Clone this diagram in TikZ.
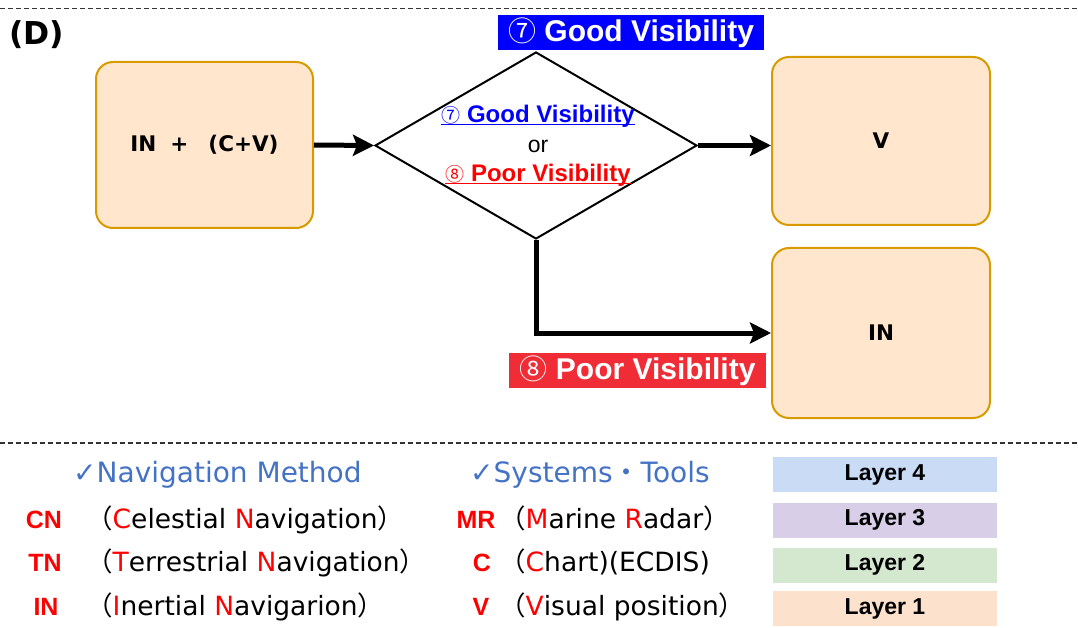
\documentclass[tikz,border=0pt]{standalone}
\usepackage{fontspec}
\setmainfont{Liberation Sans}
\newfontfamily\dvsans{DejaVu Sans}
\newfontfamily\jpfont{Noto Sans CJK JP}
\usetikzlibrary{shapes.geometric,arrows.meta}

\definecolor{boxfill}{HTML}{FFE6CC}
\definecolor{boxline}{HTML}{D79B00}
\definecolor{goodblue}{HTML}{0000FF}
\definecolor{poorred}{HTML}{F02C36}
\definecolor{hdrblue}{HTML}{4472C4}
\definecolor{abbrred}{HTML}{FF0000}
\definecolor{lay4}{HTML}{CADBF6}
\definecolor{lay3}{HTML}{D8CEE8}
\definecolor{lay2}{HTML}{D4E8D0}
\definecolor{lay1}{HTML}{FCE2CC}
\definecolor{sepgray}{HTML}{333333}

% font size in points, leading equal to size
\newcommand\setfs[1]{\fontsize{#1}{#1}\selectfont}
% text with a thin underline close to the baseline
\newcommand\ulinetext[1]{\setbox0\hbox{#1}\rlap{\rule[-2.5pt]{\wd0}{1.5pt}}\box0}
% full-width brackets
\newcommand\fwl{{\jpfont\mdseries （}}
\newcommand\fwr{{\jpfont\mdseries ）}}
\newcommand\hl[1]{{\color{abbrred}#1}}
% circled numbers
\newcommand\circnum[2]{{\jpfont\mdseries\setfs{#1}#2}}

\tikzset{
  stage/.style={draw=boxline, fill=boxfill, line width=2pt, rounded corners=17pt,
    inner sep=0pt, font=\dvsans\bfseries\setfs{21.5}},
  decision/.style={diamond, draw=black, line width=2pt, fill=white, inner sep=0pt},
  flow/.style={line width=5pt, -{Stealth[length=21pt,width=21pt,inset=4pt]}},
  tag/.style={text=white, font=\bfseries\setfs{30}, inner sep=0pt, minimum height=35pt},
  sepline/.style={draw=sepgray, line width=1.5pt, dash pattern=on 5pt off 3pt},
  hdr/.style={anchor=base west, inner sep=0pt, text=hdrblue, font=\dvsans\setfs{28}},
  abbr/.style={anchor=base, inner sep=0pt, text=abbrred, font=\bfseries\setfs{25}},
  desc/.style={anchor=base west, inner sep=0pt, font=\dvsans\setfs{26.5}},
  layer/.style={minimum width=224pt, minimum height=35pt, inner sep=0pt,
    font=\bfseries\setfs{23}},
}

\begin{document}
\begin{tikzpicture}[x=1pt,y=-1pt]
\useasboundingbox (0,0) rectangle (1078,628);

% separators
\draw[sepline] (0,8.5) -- (1078,8.5);
\draw[sepline] (0,443) -- (1078,443);

\node[anchor=base west, inner sep=0pt, font=\dvsans\bfseries\setfs{31.5}] (title) at (9,45) {(D)};

% flow
\node[stage, minimum width=217pt, minimum height=166pt] (mix) at (204.5,145)
  {IN\hspace{14pt}+\hspace{20pt}(C+V)};
\node[decision, minimum width=322pt, minimum height=187pt] (dia) at (536,145.5) {};
\node[stage, minimum width=218pt, minimum height=168pt] (vis) at (881,141) {V};
\node[stage, minimum width=218pt, minimum height=170pt] (ins) at (881,333) {IN};

\node[anchor=base, inner sep=0pt, text=goodblue, font=\bfseries\setfs{24}] (q1) at (538,123)
  {\ulinetext{\circnum{19}{⑦} Good Visibility}};
\node[anchor=base, inner sep=0pt, font=\setfs{23}] (q2) at (538,153) {or};
\node[anchor=base, inner sep=0pt, text=abbrred, font=\bfseries\setfs{24}] (q3) at (538,182)
  {\ulinetext{\circnum{19}{⑧} Poor Visibility}};

\draw[flow] (mix.east) -- (dia.west);
\draw[flow] (dia.east) -- (dia.east -| vis.west);
\draw[flow] (dia.south) |- (ins.west);

\node[tag, fill=goodblue, minimum width=266pt] (good) at (631,32.5)
  {\circnum{28}{⑦} Good Visibility};
\node[tag, fill=poorred, minimum width=257pt] (poor) at (637.5,370.5)
  {\circnum{28}{⑧} Poor Visibility};

% legend: navigation methods
\node[hdr] (h1) at (73,482) {✓Navigation Method};
\node[abbr] (cn) at (44,528) {CN};
\node[abbr] (tn) at (45,571) {TN};
\node[abbr] (in) at (46,615) {IN};
\node[desc] (cnd) at (86,528) {\fwl\hl{C}elestial \hl{N}avigation\fwr};
\node[desc] (tnd) at (86,571) {\fwl\hl{T}errestrial \hl{N}avigation\fwr};
\node[desc] (ind) at (86,615) {\fwl\hl{I}nertial \hl{N}avigarion\fwr};

% legend: systems and tools
\node[hdr] (h2) at (470,482) {✓Systems{\jpfont ・}Tools};
\node[abbr] (mr) at (476,528) {MR};
\node[abbr] (ch) at (482,571) {C};
\node[abbr] (vp) at (481,615) {V};
\node[desc] (mrd) at (499,528) {\fwl\hl{M}arine \hl{R}adar\fwr};
\node[desc] (chd) at (499,571) {\fwl\hl{C}hart)(ECDIS)};
\node[desc] (vpd) at (499,615) {\fwl\hl{V}isual position\fwr};

% legend: layers
\node[layer, fill=lay4] (l4) at (885,474.5) {Layer 4};
\node[layer, fill=lay3] (l3) at (885,520) {Layer 3};
\node[layer, fill=lay2] (l2) at (885,565) {Layer 2};
\node[layer, fill=lay1] (l1) at (885,608.5) {Layer 1};
\end{tikzpicture}
\end{document}
